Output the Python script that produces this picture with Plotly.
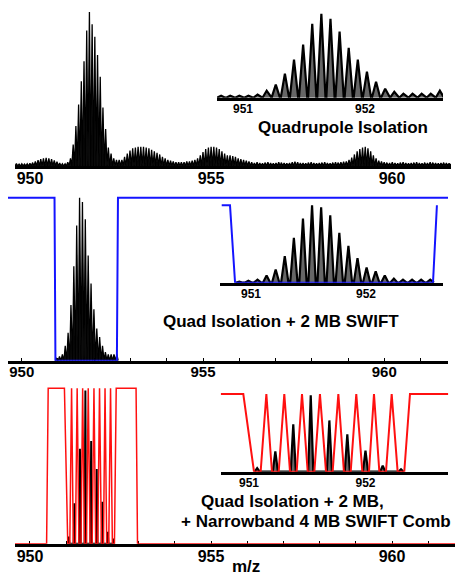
import plotly.graph_objects as go

W, H = 455, 576

# ---------------- data ----------------
# Panel 1: full quadrupole-isolated spectrum, isotopic peaks on a regular m/z grid
top_start_mz = 949.625
isotope_spacing = 0.0747
top_intensity = [
    1.5, 1.2, 1.5, 1.2, 1.5,
    1.8, 2.2, 3.0, 3.8, 4.5, 5.0, 5.3, 5.0, 4.4, 3.6, 2.8,
    2.0, 1.5, 1.5, 2.5, 5.0,
    14, 26, 40, 55, 68, 88, 100, 92, 84, 72, 58, 38, 24, 12, 8, 5, 4, 4,
    4, 6, 8, 10, 11.5, 12, 12.5, 12.5, 12.5, 12, 11.5, 10.5, 9.5, 8.5, 7.5, 6, 5, 4, 3.5,
    3, 2.5, 2.5, 2.5, 2.5, 3,
    3, 3.5, 4, 5, 7, 9, 11, 12, 12.5, 12.5, 12, 11, 9.5, 8, 7, 7, 6.5, 6, 5, 4.5, 4, 3.5, 3,
    2.5, 2, 2.5, 2, 1.8, 2.2, 2.5, 2, 1.8, 2, 2.5, 2.2, 2, 1.8, 2, 2.5, 2.8, 2.5, 2, 2,
    1.8, 2.2, 2.5, 2, 1.8, 2, 2.2, 2.5, 2, 1.8, 2.2, 2.5, 2.2, 2.5, 2.8,
    3, 4, 5.5, 7.5, 9.5, 11, 12, 12.5, 11.5, 9.5, 7, 5, 3.5, 3,
    2.5, 2.2, 2, 2.5, 2, 1.8, 2.2, 2.5, 2, 1.8, 2, 2.2, 2.5, 2, 1.8, 2.2, 2, 2.5, 2.2, 2,
    1.8, 2, 2.2, 2, 1.8, 2,
]
inset1_start_mz = 950.8205
inset1_intensity = [2.4, 2.4, 2.4, 2.4, 3.6, 8.3, 15.5, 28.6, 45.2, 63.1, 88.1, 100, 94,
                    78.6, 59.5, 45.2, 31, 19, 10.7, 7.1, 4.8, 4.8, 4.8, 4.8, 8.3]

# Panel 2: quad isolation + 2 MB SWIFT
panel2_spacing = 0.0791
main2_start_mz = 950.963
inset2_start_mz = 950.898
panel2_intensity = [1.3, 2.6, 3.9, 9.2, 17.1, 34.2, 57.9, 82.9, 100, 97.4, 86.8, 64.5,
                    47.4, 31.6, 19.7, 14.5, 9.2, 5.3, 3.9, 3.9, 3.9, 3.9]
swift2_main_mz = [949.622, 950.905, 950.93, 952.625, 952.655, 961.757]
swift2_main_level = [100, 100, 0, 0, 100, 100]
swift2_inset_mz = [950.745, 950.817, 950.861, 952.583, 952.617]
swift2_inset_level = [100, 100, 0, 0, 100]

# Panel 3: + narrowband 4 MB SWIFT comb
comb_peak_mz = [951.07, 951.226, 951.38, 951.53, 951.69, 951.844, 952.0, 952.148, 952.305]
comb_peak_intensity = [4.5, 26, 61, 98.5, 66, 48, 27, 7.7, 3.2]
comb_mz = [950.951, 951.043, 951.100, 951.149, 951.197, 951.255, 951.303, 951.352, 951.409,
           951.455, 951.504, 951.561, 951.609, 951.661, 951.718, 951.767, 951.815, 951.873,
           951.921, 951.973, 952.030, 952.073, 952.119, 952.176, 952.225, 952.276, 952.333,
           952.382]
comb_level = [100, 0, 0, 100, 0, 0, 100, 0, 0, 100, 0, 0, 100, 0, 0, 100, 0, 0, 100, 0, 0,
              100, 0, 0, 100, 0, 0, 100]
swift3_main_lead_mz = [949.586, 950.459, 950.503]
swift3_main_lead_level = [0, 0, 100]
swift3_main_tail_mz = [952.93, 952.97, 961.74]
swift3_main_tail_level = [100, 0, 0]
swift3_inset_lead_mz = [950.757]
swift3_inset_tail_mz = [952.711]

tick_main = [950, 955, 960]
tick_inset = [951, 952]

# ---------------- helpers ----------------
def grid(start, step, n):
    return [start + i * step for i in range(n)]

def sticks(centers, heights, hw):
    xs, ys = [], []
    for c, h in zip(centers, heights):
        xs += [c - hw, c, c + hw]
        ys += [0, h, 0]
    return xs, ys

def dx(a, b):
    return [a / W, b / W]

def dy(bottom, top):
    return [1 - bottom / H, 1 - top / H]

BLACK = "#000000"
BLUE = "#1414ff"
RED = "#ff1010"
FONT = "Liberation Sans"

fig = go.Figure()

# Panel 1
x, y = sticks(grid(top_start_mz, isotope_spacing, len(top_intensity)), top_intensity, 0.036)
fig.add_trace(go.Scatter(x=x, y=y, mode="lines", line=dict(color=BLACK, width=1.3),
                         fill="tozeroy", fillcolor="rgba(0,0,0,0.95)", xaxis="x", yaxis="y"))
x, y = sticks(grid(inset1_start_mz, isotope_spacing, len(inset1_intensity)), inset1_intensity, 0.034)
fig.add_trace(go.Scatter(x=x, y=y, mode="lines", line=dict(color=BLACK, width=2.2),
                         fill="tozeroy", fillcolor="rgba(0,0,0,0.6)", xaxis="x2", yaxis="y2"))

# Panel 2
x, y = sticks(grid(main2_start_mz, panel2_spacing, len(panel2_intensity)), panel2_intensity, 0.036)
fig.add_trace(go.Scatter(x=x, y=y, mode="lines", line=dict(color=BLACK, width=1.3),
                         fill="tozeroy", fillcolor="rgba(0,0,0,0.95)", xaxis="x3", yaxis="y3"))
fig.add_trace(go.Scatter(x=swift2_main_mz, y=swift2_main_level, mode="lines",
                         line=dict(color=BLUE, width=2), xaxis="x3", yaxis="y3"))
x, y = sticks(grid(inset2_start_mz, panel2_spacing, len(panel2_intensity)), panel2_intensity, 0.032)
fig.add_trace(go.Scatter(x=x, y=y, mode="lines", line=dict(color=BLACK, width=2.2),
                         fill="tozeroy", fillcolor="rgba(0,0,0,0.6)", xaxis="x4", yaxis="y4"))
fig.add_trace(go.Scatter(x=swift2_inset_mz, y=swift2_inset_level, mode="lines",
                         line=dict(color=BLUE, width=2), xaxis="x4", yaxis="y4"))

# Panel 3
x, y = sticks(comb_peak_mz, comb_peak_intensity, 0.02)
fig.add_trace(go.Scatter(x=x, y=y, mode="lines", line=dict(color=BLACK, width=2),
                         xaxis="x5", yaxis="y5"))
fig.add_trace(go.Scatter(x=swift3_main_lead_mz + comb_mz + swift3_main_tail_mz,
                         y=swift3_main_lead_level + comb_level + swift3_main_tail_level,
                         mode="lines", line=dict(color=RED, width=1.5), xaxis="x5", yaxis="y5"))
x, y = sticks(comb_peak_mz, comb_peak_intensity, 0.022)
fig.add_trace(go.Scatter(x=x, y=y, mode="lines", line=dict(color=BLACK, width=2.2),
                         fill="tozeroy", fillcolor="rgba(0,0,0,0.6)", xaxis="x6", yaxis="y6"))
fig.add_trace(go.Scatter(x=swift3_inset_lead_mz + comb_mz + swift3_inset_tail_mz,
                         y=[100] + comb_level + [100],
                         mode="lines", line=dict(color=RED, width=2), xaxis="x6", yaxis="y6"))


def xax(dom, rng, tickvals, size, anchor, ticktext=None, ticks="", lw=2.5, standoff=0):
    d = dict(domain=dom, range=rng, anchor=anchor, showgrid=False, zeroline=False,
             showline=True, linecolor=BLACK, linewidth=lw, layer="below traces",
             tickmode="array", tickvals=tickvals, ticks=ticks, ticklen=3, tickwidth=1,
             tickcolor=BLACK, ticklabelstandoff=standoff,
             tickfont=dict(family=FONT, size=size, color=BLACK, weight="bold"))
    if ticktext is not None:
        d["ticktext"] = ticktext
    return d


def yax(dom, rng, anchor):
    return dict(domain=dom, range=rng, anchor=anchor, visible=False, showgrid=False,
                zeroline=False)


unit_ticks = list(range(950, 962))
unit_text = [str(v) if v % 5 == 0 else "" for v in unit_ticks]

layout = dict(
    width=W, height=H, autosize=False, margin=dict(l=0, r=0, t=0, b=0),
    paper_bgcolor="white", plot_bgcolor="rgba(0,0,0,0)", showlegend=False,
    xaxis=xax(dx(15, 451), [949.586, 961.63], tick_main, 16, "y", standoff=-4),
    yaxis=yax(dy(166, 10), [0, 101.3], "x"),
    xaxis2=xax(dx(217, 443), [950.787, 952.639], tick_inset, 12, "y2", standoff=-2),
    yaxis2=yax(dy(97.7, 10), [0, 104.4], "x2"),
    xaxis3=xax(dx(8, 448), [949.622, 961.757], unit_ticks, 15, "y3", unit_text, "inside",
               standoff=-4),
    yaxis3=yax(dy(360.7, 190), [0, 104.7], "x3"),
    xaxis4=xax(dx(220, 443), [950.730, 952.670], tick_inset, 12, "y4", standoff=-2),
    yaxis4=yax(dy(282.7, 200), [0, 106.7], "x4"),
    xaxis5=xax(dx(15, 455), [949.586, 961.74], unit_ticks, 16, "y5", unit_text, "inside",
               standoff=-4),
    yaxis5=yax(dy(543.7, 380), [0, 105.3], "x5"),
    xaxis6=xax(dx(220.7, 448.3), [950.757, 952.711], tick_inset, 12, "y6", standoff=-2),
    yaxis6=yax(dy(471.7, 385), [0, 111.6], "x6"),
)


def ann(text, px, py, size):
    return dict(text=text, x=px / W, y=1 - py / H, xref="paper", yref="paper",
                showarrow=False, xanchor="center", yanchor="middle",
                font=dict(family=FONT, size=size, color=BLACK, weight="bold"))


layout["annotations"] = [
    ann("Quadrupole Isolation", 342.5, 127, 17),
    ann("Quad Isolation + 2 MB SWIFT", 281, 321, 17),
    ann("Quad Isolation + 2 MB,", 292, 501, 17),
    ann("+ Narrowband 4 MB SWIFT Comb", 315.7, 521, 17),
    ann("m/z", 246, 566, 17),
]

fig.update_layout(**layout)
fig.write_html("out.html", config={"displayModeBar": False},
               post_script="document.body.style.margin='0';document.body.style.overflow='hidden';")
